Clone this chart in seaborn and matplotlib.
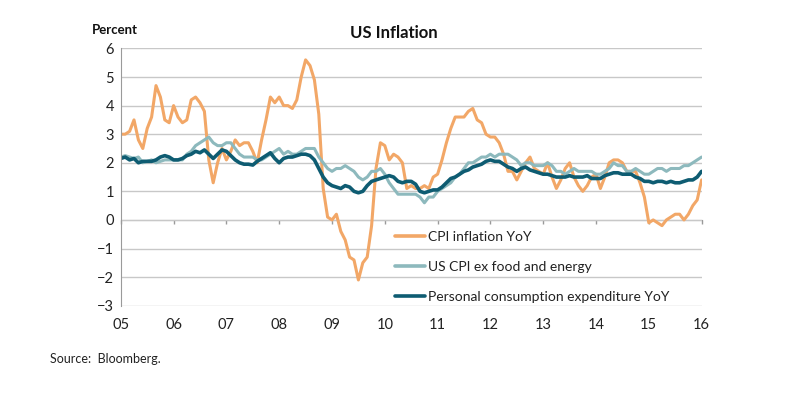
import numpy as np
import pandas as pd
import matplotlib
matplotlib.use("Agg")
import matplotlib.pyplot as plt
import seaborn as sns

# Monthly values, Jan 2005 .. Jan 2016
cpi = [3.0, 3.0, 3.1, 3.5, 2.8, 2.5, 3.2, 3.6, 4.7, 4.3, 3.5, 3.4,
       4.0, 3.6, 3.4, 3.5, 4.2, 4.3, 4.1, 3.8, 2.1, 1.3, 2.0, 2.5,
       2.1, 2.4, 2.8, 2.6, 2.7, 2.7, 2.4, 2.0, 2.8, 3.5, 4.3, 4.1,
       4.3, 4.0, 4.0, 3.9, 4.2, 5.0, 5.6, 5.4, 4.9, 3.7, 1.1, 0.1,
       0.0, 0.2, -0.4, -0.7, -1.3, -1.4, -2.1, -1.5, -1.3, -0.2, 1.8, 2.7,
       2.6, 2.1, 2.3, 2.2, 2.0, 1.1, 1.2, 1.1, 1.1, 1.2, 1.1, 1.5,
       1.6, 2.1, 2.7, 3.2, 3.6, 3.6, 3.6, 3.8, 3.9, 3.5, 3.4, 3.0,
       2.9, 2.9, 2.7, 2.3, 1.7, 1.7, 1.4, 1.7, 2.0, 2.2, 1.8, 1.7,
       1.6, 2.0, 1.5, 1.1, 1.4, 1.8, 2.0, 1.5, 1.2, 1.0, 1.2, 1.5,
       1.6, 1.1, 1.5, 2.0, 2.1, 2.1, 2.0, 1.7, 1.7, 1.7, 1.3, 0.8,
       -0.1, 0.0, -0.1, -0.2, 0.0, 0.1, 0.2, 0.2, 0.0, 0.2, 0.5, 0.7,
       1.4]

core_cpi = [2.2, 2.25, 2.2, 2.15, 2.2, 2.0, 2.05, 2.1, 2.0, 2.05, 2.1, 2.1,
            2.1, 2.1, 2.1, 2.3, 2.4, 2.6, 2.7, 2.8, 2.9, 2.7, 2.6, 2.6,
            2.7, 2.7, 2.5, 2.3, 2.2, 2.2, 2.2, 2.1, 2.1, 2.2, 2.3, 2.4,
            2.5, 2.3, 2.4, 2.3, 2.3, 2.4, 2.5, 2.5, 2.5, 2.2, 2.0, 1.8,
            1.7, 1.8, 1.8, 1.9, 1.8, 1.7, 1.5, 1.4, 1.5, 1.7, 1.7, 1.8,
            1.6, 1.3, 1.1, 0.9, 0.9, 0.9, 0.9, 0.9, 0.8, 0.6, 0.8, 0.8,
            1.0, 1.1, 1.2, 1.3, 1.5, 1.6, 1.8, 2.0, 2.0, 2.1, 2.2, 2.2,
            2.3, 2.2, 2.3, 2.3, 2.3, 2.2, 2.1, 1.9, 2.0, 2.0, 1.9, 1.9,
            1.9, 2.0, 1.9, 1.7, 1.7, 1.6, 1.7, 1.8, 1.7, 1.7, 1.7, 1.7,
            1.6, 1.6, 1.7, 1.8, 2.0, 1.9, 1.9, 1.7, 1.7, 1.8, 1.7, 1.6,
            1.6, 1.7, 1.8, 1.8, 1.7, 1.8, 1.8, 1.8, 1.9, 1.9, 2.0, 2.1,
            2.2]

pce = [2.15, 2.2, 2.1, 2.15, 2.0, 2.05, 2.05, 2.05, 2.1, 2.2, 2.25, 2.2,
       2.1, 2.1, 2.15, 2.25, 2.3, 2.4, 2.35, 2.45, 2.3, 2.15, 2.3, 2.45,
       2.4, 2.25, 2.1, 2.0, 1.95, 1.95, 1.92, 2.05, 2.15, 2.25, 2.35, 2.15,
       2.0, 2.15, 2.2, 2.2, 2.25, 2.3, 2.3, 2.25, 2.1, 1.8, 1.5, 1.3,
       1.2, 1.15, 1.1, 1.2, 1.15, 1.0, 0.95, 1.0, 1.2, 1.35, 1.4, 1.45,
       1.5, 1.55, 1.5, 1.35, 1.3, 1.35, 1.35, 1.25, 1.0, 0.95, 1.0, 1.05,
       1.05, 1.15, 1.3, 1.45, 1.5, 1.6, 1.7, 1.75, 1.85, 1.9, 1.95, 2.05,
       2.1, 2.05, 2.05, 1.95, 1.85, 1.8, 1.7, 1.8, 1.85, 1.75, 1.7, 1.65,
       1.6, 1.6, 1.55, 1.5, 1.5, 1.5, 1.55, 1.5, 1.5, 1.5, 1.55, 1.45,
       1.45, 1.45, 1.55, 1.6, 1.65, 1.65, 1.6, 1.6, 1.6, 1.5, 1.45, 1.35,
       1.35, 1.3, 1.35, 1.35, 1.3, 1.35, 1.3, 1.3, 1.35, 1.4, 1.4, 1.5,
       1.7]

years = list(range(2005, 2017))
year_labels = ["05", "06", "07", "08", "09", "10", "11", "12", "13", "14", "15", "16"]
series_names = ["CPI inflation YoY", "US CPI ex food and energy",
                "Personal consumption expenditure YoY"]
colors = ["#F2A767", "#8DB9BD", "#0E5C72"]
widths = [2.2, 2.2, 2.6]

# time axis in fractional years
t = 2005 + np.arange(len(cpi)) / 12

df = pd.DataFrame({"t": t, series_names[0]: cpi,
                   series_names[1]: core_cpi, series_names[2]: pce})
long_df = df.melt(id_vars="t", var_name="series", value_name="value")

sns.set_style("white")
plt.rcParams["font.family"] = ["Lato", "DejaVu Sans"]

fig = plt.figure(figsize=(8, 3.97), dpi=100)
ax = fig.add_axes([0.151, 0.230, 0.726, 0.648])

for name, c, w in zip(series_names, colors, widths):
    sns.lineplot(data=long_df[long_df["series"] == name], x="t", y="value",
                 color=c, linewidth=w, label=name, ax=ax)

ax.set_xlim(2005, 2016)
ax.set_ylim(-3, 6)
ax.set_yticks(range(-3, 7))
ax.set_xticks(years)
ax.set_xticklabels(year_labels)
ax.set_xlabel("")
ax.set_ylabel("")

# gridlines and axes
ax.grid(axis="y", color="#C8C8C8", linewidth=1.0)
ax.set_axisbelow(True)
for s in ["top", "right", "bottom"]:
    ax.spines[s].set_visible(False)
ax.spines["left"].set_color("#9A9A9A")
ax.tick_params(axis="y", length=3, width=1, color="#9A9A9A", pad=2,
               labelsize=10.5, labelcolor="#222222")
ax.tick_params(axis="x", length=0, pad=9, labelsize=10.5, labelcolor="#222222")

# category axis crossing at zero with downward tick marks
zero_ax = ax.secondary_xaxis(1 / 3)
zero_ax.set_xticks(years)
zero_ax.xaxis.set_ticks_position("bottom")
zero_ax.tick_params(axis="x", direction="out", length=3, width=1, color="#9A9A9A",
                    labelbottom=False, labeltop=False)
zero_ax.spines["bottom"].set_color("#9A9A9A")
zero_ax.spines["top"].set_visible(False)

leg = ax.legend(loc="upper left", bbox_to_anchor=(0.472, 0.292), frameon=False,
                fontsize=10, handlelength=2.2, handletextpad=0.15,
                labelspacing=1.3, borderaxespad=0, borderpad=0)
for line in leg.get_lines():
    line.set_linewidth(2.6)
for txt in leg.get_texts():
    txt.set_color("#222222")

fig.text(0.4925, 0.917, "US Inflation", ha="center", va="center",
         fontsize=12, fontweight="bold", color="#111111")
fig.text(0.115, 0.924, "Percent", ha="left", va="center",
         fontsize=9.5, fontweight="bold", color="#111111")
fig.text(0.0625, 0.096, "Source:  Bloomberg.", ha="left", va="center",
         fontsize=9, color="#222222")

fig.savefig("out.png", dpi=100)
